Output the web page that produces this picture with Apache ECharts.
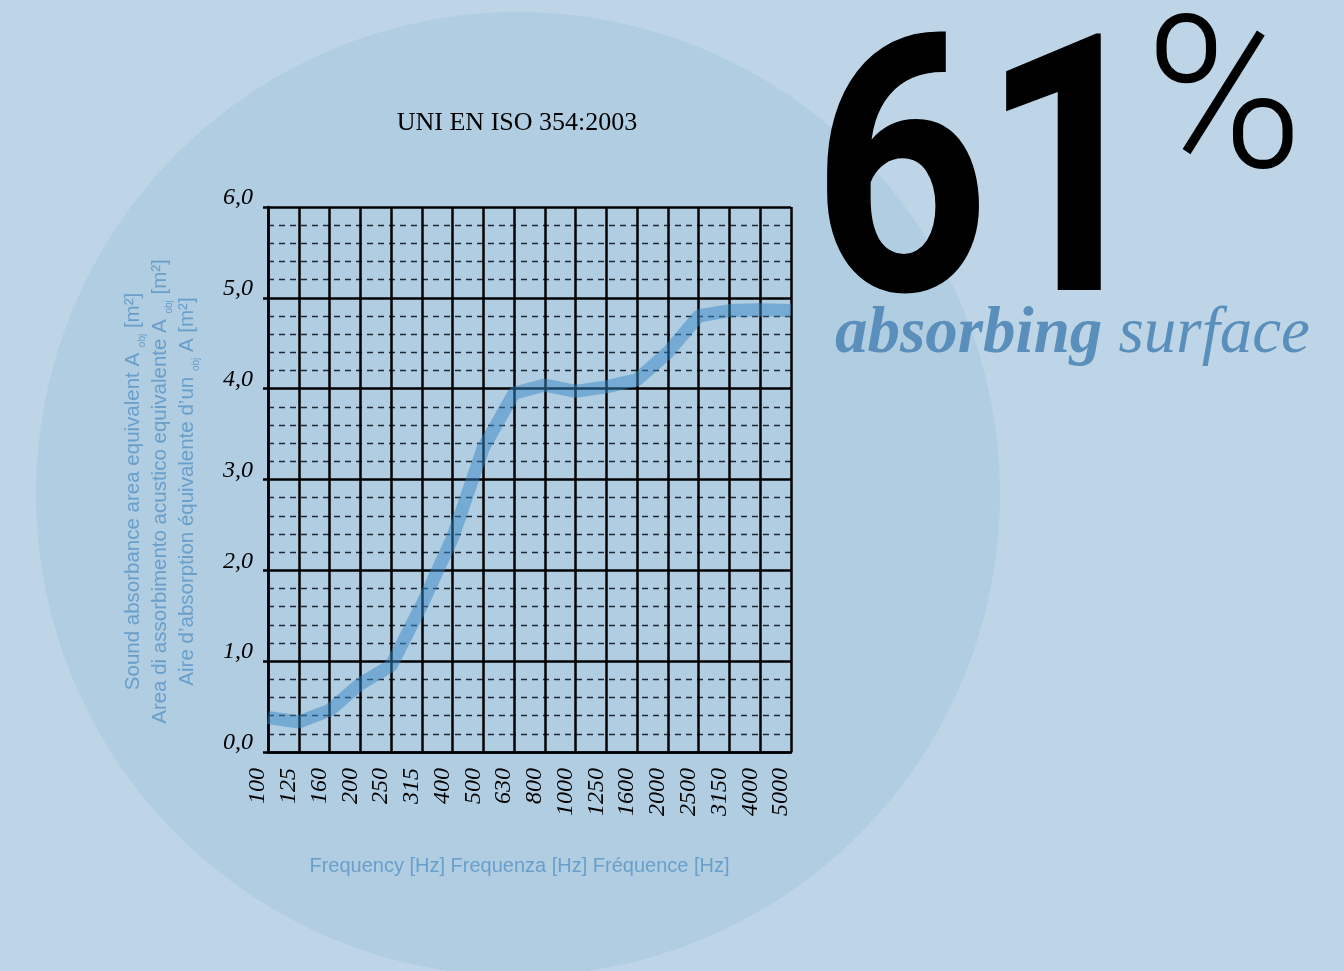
<!DOCTYPE html>
<html>
<head>
<meta charset="utf-8">
<script src="https://cdn.jsdelivr.net/npm/echarts@6/dist/echarts.min.js"></script>
<style>
  html, body { margin: 0; padding: 0; background: #bdd5e7; }
  #chart { width: 1344px; height: 971px; }
</style>
</head>
<body>
<div id="chart"></div>
<script>
// frequenze (Hz) e area di assorbimento equivalente (m2)
const freqs = ['100', '125', '160', '200', '250', '315', '400', '500', '630',
  '800', '1000', '1250', '1600', '2000', '2500', '3150', '4000', '5000'];
const absorption = [0.38, 0.33, 0.46, 0.75, 0.95, 1.62, 2.36, 3.35, 3.95,
  4.04, 3.97, 4.02, 4.10, 4.40, 4.80, 4.86, 4.87, 4.86];
const yMin = 0;
const yMax = 6;
const yStep = 1;

const blueText = '#6a9fca';
const serif = '"Liberation Serif", "DejaVu Serif", serif';
const sans = '"Liberation Sans", Arial, sans-serif';
const bigSans = 'Roboto, "Liberation Sans", sans-serif';

const chart = echarts.init(document.getElementById('chart'));

const option = {
  backgroundColor: '#bdd5e7',
  animation: false,
  title: {
    text: 'UNI EN ISO 354:2003',
    left: 512,
    top: 105,
    textAlign: 'center',
    textStyle: { fontFamily: serif, fontSize: 26, fontWeight: 'normal', color: '#000' }
  },
  grid: { left: 268, right: 553, top: 207, bottom: 219, containLabel: false },
  xAxis: {
    type: 'category',
    data: freqs,
    boundaryGap: false,
    name: 'Frequency [Hz] Frequenza [Hz] Fréquence [Hz]',
    nameLocation: 'middle',
    nameGap: 104,
    nameTextStyle: { fontFamily: sans, fontSize: 20, color: blueText, padding: [0, 20, 0, 0] },
    axisLine: { lineStyle: { color: '#000', width: 2.5 } },
    axisTick: { show: false },
    axisLabel: {
      rotate: 90,
      interval: 0,
      margin: 16,
      fontFamily: serif,
      fontStyle: 'italic',
      fontSize: 24,
      color: '#000',
      verticalAlign: 'bottom',
      lineHeight: 20
    },
    splitLine: { show: true, interval: 0, lineStyle: { color: '#000', width: 2.5 } }
  },
  yAxis: {
    type: 'value',
    min: yMin,
    max: yMax,
    interval: yStep,
    name: '{t|Sound absorbance area equivalent A }{s|obj}{t| [m²]}\n' +
      '{t|Area di assorbimento acustico equivalente A }{s|obj}{t| [m²]}\n' +
      '{t|Aire d\u2019absorption équivalente d\u2019un }{s|obj}{t| A [m²]}',
    nameLocation: 'middle',
    nameRotate: 90,
    nameGap: 67,
    nameTextStyle: {
      align: 'center',
      padding: [0, 24, 0, 0],
      rich: {
        t: { fontFamily: sans, fontSize: 20.5, color: blueText, lineHeight: 27 },
        s: { fontFamily: sans, fontSize: 10, color: blueText, lineHeight: 27, verticalAlign: 'bottom' }
      }
    },
    axisLine: { show: true, lineStyle: { color: '#000', width: 2.5 } },
    axisTick: { show: true, length: 5, lineStyle: { color: '#000', width: 2.5 } },
    axisLabel: {
      margin: 15,
      fontFamily: serif,
      fontStyle: 'italic',
      fontSize: 24,
      color: '#000',
      verticalAlign: 'bottom',
      lineHeight: 18,
      formatter: v => v.toFixed(1).replace('.', ',')
    },
    splitLine: { show: true, lineStyle: { color: '#000', width: 2.5 } },
    minorTick: { show: false, splitNumber: 5 },
    minorSplitLine: { show: true, lineStyle: { color: '#1d2a36', width: 1.3, type: [6, 5] } }
  },
  graphic: [
    {
      type: 'circle',
      z: -10,
      silent: true,
      shape: { cx: 518, cy: 494, r: 482 },
      style: { fill: '#b0cde2' }
    },
    {
      type: 'text',
      x: 812, y: 200,
      scaleX: 0.86,
      style: {
        text: '6', fontFamily: bigSans, fontWeight: 'bold', fontSize: 360,
        fill: '#000', align: 'left', verticalAlign: 'middle'
      }
    },
    {
      type: 'text',
      x: 981, y: 200,
      scaleX: 0.85,
      style: {
        text: '1', fontFamily: bigSans, fontWeight: 'bold', fontSize: 360,
        fill: '#000', align: 'left', verticalAlign: 'middle'
      }
    },
    {
      type: 'text',
      x: 1145, y: 113,
      scaleX: 1.0,
      style: {
        text: '%', fontFamily: bigSans, fontWeight: 300, fontSize: 214,
        fill: '#000', align: 'left', verticalAlign: 'middle'
      }
    },
    {
      type: 'text',
      x: 835, y: 335,
      style: {
        text: '{a|absorbing }{b|surface}',
        verticalAlign: 'middle',
        rich: {
          a: { fontFamily: serif, fontStyle: 'italic', fontWeight: 'bold', fontSize: 65, fill: '#5a8fbc' },
          b: { fontFamily: serif, fontStyle: 'italic', fontSize: 65, fill: '#5a8fbc' }
        }
      }
    }
  ],
  series: [
    {
      type: 'line',
      data: absorption,
      symbol: 'none',
      z: 3,
      lineStyle: { color: 'rgba(55, 135, 195, 0.5)', width: 13 }
    }
  ]
};

chart.setOption(option);
</script>
</body>
</html>
